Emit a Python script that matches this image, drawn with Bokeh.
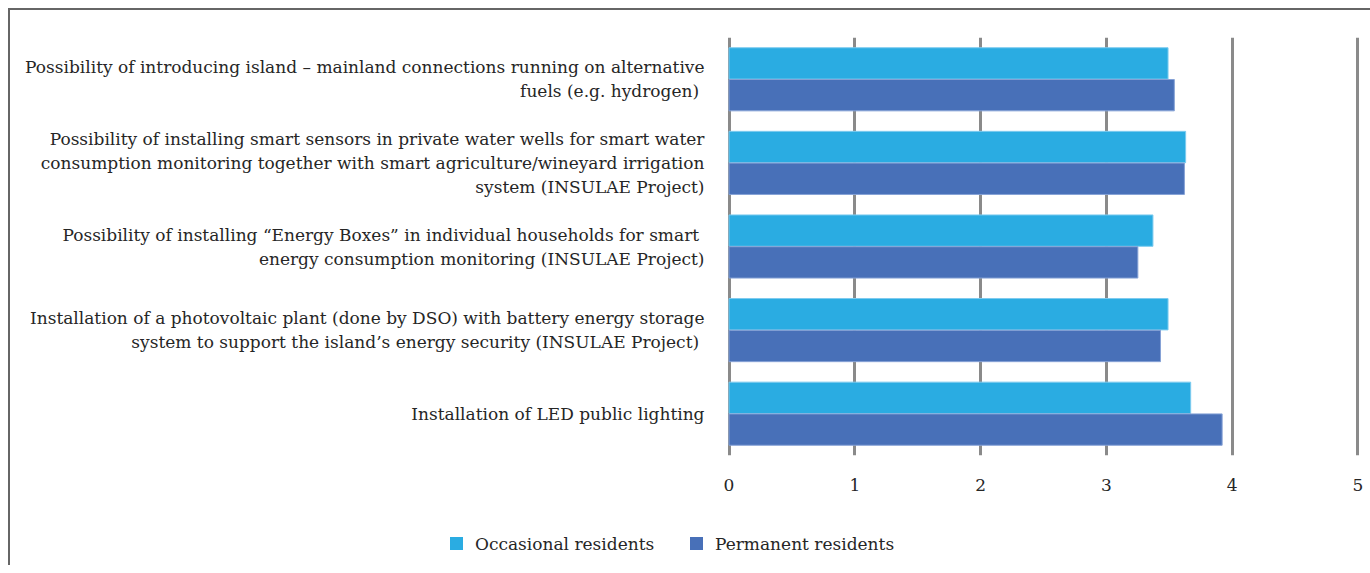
from bokeh.plotting import figure
from bokeh.layouts import column
from bokeh.models import FactorRange, FixedTicker, Div
from bokeh.embed import file_html
from bokeh.resources import INLINE
from bokeh.transform import dodge

categories = [
    "Installation of LED public lighting",
    "Installation of a photovoltaic plant (done by DSO) with battery energy storage\nsystem to support the island\u2019s energy security (INSULAE Project) ",
    "Possibility of installing \u201cEnergy Boxes\u201d in individual households for smart \nenergy consumption monitoring (INSULAE Project)",
    "Possibility of installing smart sensors in private water wells for smart water\nconsumption monitoring together with smart agriculture/wineyard irrigation\nsystem (INSULAE Project)",
    "Possibility of introducing island \u2013 mainland connections running on alternative\nfuels (e.g. hydrogen) ",
]
occasional = [3.67, 3.49, 3.37, 3.63, 3.49]
permanent = [3.92, 3.43, 3.25, 3.62, 3.54]
x_ticks = [0, 1, 2, 3, 4, 5]
series_names = ["Occasional residents", "Permanent residents"]
colors = ["#2AACE2", "#4870B8"]
edge_colors = ["#7dcbef", "#86a2d6"]

FONT = "DejaVu Serif"
TEXT = "#262626"

p = figure(
    width=1370, height=500,
    y_range=FactorRange(factors=categories),
    x_range=(-0.012, 5.012),
    output_backend="svg", toolbar_location=None,
    min_border_left=727, min_border_right=11, min_border_top=37, min_border_bottom=45,
)
p.y_range.range_padding = 0
p.outline_line_color = None
p.border_fill_color = None
p.background_fill_color = None

src = dict(cat=categories, occ=occasional, perm=permanent)
p.hbar(y=dodge("cat", 0.19, range=p.y_range), right="occ", left=0, height=0.375,
       source=src, fill_color=colors[0], line_color=edge_colors[0], line_width=1)
p.hbar(y=dodge("cat", -0.19, range=p.y_range), right="perm", left=0, height=0.375,
       source=src, fill_color=colors[1], line_color=edge_colors[1], line_width=1)

p.xaxis.ticker = FixedTicker(ticks=x_ticks)
p.xaxis.axis_line_color = None
p.xaxis.major_tick_line_color = None
p.xaxis.minor_tick_line_color = None
p.xaxis.major_label_text_font = FONT
p.xaxis.major_label_text_font_size = "17px"
p.xaxis.major_label_text_color = TEXT
p.xaxis.major_label_standoff = 17

p.yaxis.axis_line_color = None
p.yaxis.major_tick_line_color = None
p.yaxis.minor_tick_line_color = None
p.yaxis.major_label_text_font = FONT
p.yaxis.major_label_text_font_size = "17px"
p.yaxis.major_label_text_color = TEXT
p.yaxis.major_label_standoff = 17
# labels sit a little below their bar pairs in the reference
p.yaxis.major_label_overrides = {
    categories[0]: "\n\n" + categories[0],
    categories[1]: "\n" + categories[1],
    categories[2]: "\n" + categories[2],
    categories[4]: "\n" + categories[4],
}

p.xgrid.ticker = FixedTicker(ticks=x_ticks)
p.xgrid.grid_line_color = "#8a8a8a"
p.xgrid.grid_line_width = 3
p.ygrid.grid_line_color = None

# legend row (HTML, real text)
legend_lefts = [450, 690]
items_html = ""
for name, col, left in zip(series_names, colors, legend_lefts):
    items_html += (
        f'<span style="position:absolute;left:{left}px;top:37px;width:13px;height:13px;background:{col};"></span>'
        f'<span style="position:absolute;left:{left + 25}px;top:33px;line-height:22px;white-space:nowrap;">{name}</span>'
    )
legend_div = Div(
    text=f'<div style="position:relative;width:1370px;height:65px;font-family:\'{FONT}\';font-size:17px;color:{TEXT};">{items_html}</div>',
    width=1370, height=65, margin=0,
)

layout = column(p, legend_div, spacing=0)
layout.styles = {
    "background": "linear-gradient(#666666,#666666) 8px 8px / 2px 100% no-repeat, "
                  "linear-gradient(#666666,#666666) 8px 8px / 100% 2px no-repeat, #ffffff",
}
open("out.html", "w").write(file_html(layout, INLINE))
